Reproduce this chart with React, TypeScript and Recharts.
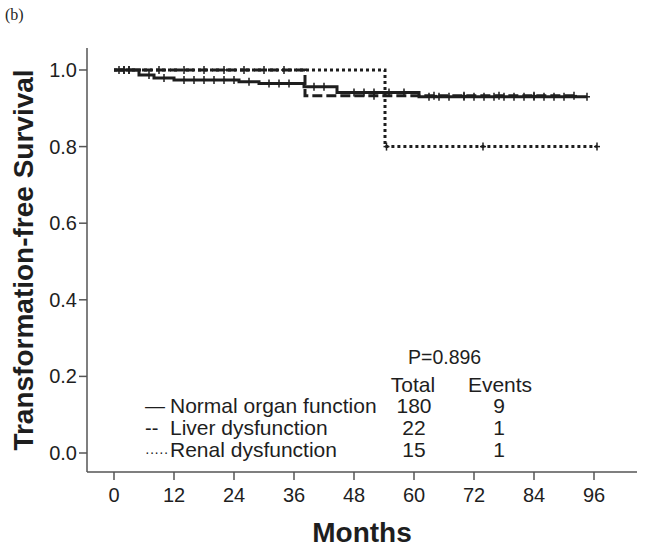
import {
  ComposedChart,
  Line,
  XAxis,
  YAxis,
  Customized,
} from 'recharts';

// month ticks and survival ticks
const MONTH_TICKS = [0, 12, 24, 36, 48, 60, 72, 84, 96];
const SURV_TICKS = [0, 0.2, 0.4, 0.6, 0.8, 1.0];

// [month, survival] at each event step
const normalSteps = [
  [0, 1.0], [5, 0.987], [8, 0.979], [12, 0.974], [25, 0.969],
  [29, 0.965], [38, 0.956], [44.6, 0.941], [61, 0.93],
];
const liverSteps = [[0, 1.0], [38.2, 0.933]];
const renalSteps = [[0, 1.0], [54.2, 0.8]];

// censored months (last one ends the curve)
const normalCensor = [
  1, 2, 3, 7, 10, 14, 16, 18, 20, 22, 24, 27, 31, 33, 35, 40, 42, 48, 50,
  52, 55, 58, 63, 65, 67, 70, 72, 74, 76, 78, 80, 82, 84, 86, 88, 90, 94.6,
];
const liverCensor = [2, 9, 14, 18, 22, 26, 30, 34, 52, 64, 70, 77, 84, 92];
const renalCensor = [3, 54.5, 73.8, 96.6];

const groups = ['Normal organ function', 'Liver dysfunction', 'Renal dysfunction'];
const totals = [180, 22, 15];
const events = [9, 1, 1];
const P_VALUE = 'P=0.896';

const FONT = '"Liberation Sans", Arial, sans-serif';
const INK = '#1e1e1e';
const AXIS = '#555';

const X_DOMAIN = [-5.4, 104.6];
const Y_DOMAIN = [-0.0496, 1.0574];

// merge steps and censor marks into one step-line series
function buildCurve(steps: number[][], censor: number[]) {
  const valueAt = (t: number) => {
    let s = steps[0][1];
    for (const [st, sv] of steps) if (st <= t) s = sv;
    return s;
  };
  const pts = [
    ...steps.map(([t, s]) => ({ t, s, c: false })),
    ...censor.map((t) => ({ t, s: valueAt(t), c: true })),
  ];
  return pts.sort((a, b) => a.t - b.t);
}

const normalData = buildCurve(normalSteps, normalCensor);
const liverData = buildCurve(liverSteps, liverCensor);
const renalData = buildCurve(renalSteps, renalCensor);

const censorMark = (props: any) => {
  const { cx, cy, payload, index } = props;
  if (!payload || !payload.c || cx == null) return <g key={`e-${index}`} />;
  return (
    <g key={`c-${index}`}>
      <line x1={cx} x2={cx} y1={cy - 4} y2={cy + 4} stroke={INK} strokeWidth={1.5} />
      <line x1={cx - 3} x2={cx + 3} y1={cy} y2={cy} stroke={INK} strokeWidth={1.5} />
    </g>
  );
};

function Annotations() {
  const symbols = ['—', '--', '·····'];
  const rowY = [413, 435, 457];
  return (
    <g fontFamily={FONT} fill={INK}>
      <text x={5} y={20} fontFamily='"Liberation Serif", "Times New Roman", serif' fontSize={16}>
        (b)
      </text>
      <text
        x={33}
        y={260}
        transform="rotate(-90 33 260)"
        textAnchor="middle"
        fontSize={28}
        fontWeight="bold"
      >
        Transformation-free Survival
      </text>
      <text x={362} y={542} textAnchor="middle" fontSize={28} fontWeight="bold">
        Months
      </text>
      <text x={408} y={364} fontSize={19.5}>{P_VALUE}</text>
      <text x={413} y={392} textAnchor="middle" fontSize={21}>Total</text>
      <text x={500} y={392} textAnchor="middle" fontSize={21}>Events</text>
      {groups.map((g, i) => (
        <g key={g}>
          <text x={145} y={rowY[i]} fontSize={i === 2 ? 14 : 20}>{symbols[i]}</text>
          <text x={170} y={rowY[i]} fontSize={21}>{g}</text>
          <text x={414} y={rowY[i]} textAnchor="middle" fontSize={21}>{totals[i]}</text>
          <text x={499} y={rowY[i]} textAnchor="middle" fontSize={21}>{events[i]}</text>
        </g>
      ))}
    </g>
  );
}

export default function App() {
  const tickStyle = { fontSize: 20, fill: INK, fontFamily: FONT };
  return (
    <div style={{ position: 'absolute', left: 0, top: 0, width: 645, height: 552, background: '#fff' }}>
      <ComposedChart width={645} height={552} margin={{ top: 48, right: 8, left: 27, bottom: 40 }}>
        <XAxis
          dataKey="t"
          type="number"
          domain={X_DOMAIN}
          ticks={MONTH_TICKS}
          allowDataOverflow
          height={40}
          tick={tickStyle}
          tickSize={8}
          tickMargin={8}
          stroke={AXIS}
          strokeWidth={1.5}
        />
        <XAxis
          xAxisId="top"
          orientation="top"
          type="number"
          domain={X_DOMAIN}
          allowDataOverflow
          height={0}
          tick={false}
          tickLine={false}
          stroke={AXIS}
          strokeWidth={1.5}
        />
        <YAxis
          type="number"
          domain={Y_DOMAIN}
          ticks={SURV_TICKS}
          allowDataOverflow
          width={60}
          tick={tickStyle}
          tickSize={8}
          tickMargin={2}
          tickFormatter={(v: number) => v.toFixed(1)}
          stroke={AXIS}
          strokeWidth={1.5}
        />
        <YAxis
          yAxisId="right"
          orientation="right"
          type="number"
          domain={Y_DOMAIN}
          allowDataOverflow
          width={0}
          tick={false}
          tickLine={false}
          stroke={AXIS}
          strokeWidth={1.5}
        />
        <Line
          data={renalData}
          dataKey="s"
          type="stepAfter"
          stroke={INK}
          strokeWidth={3}
          strokeDasharray="3 3"
          dot={censorMark}
          activeDot={false}
          isAnimationActive={false}
        />
        <Line
          data={liverData}
          dataKey="s"
          type="stepAfter"
          stroke={INK}
          strokeWidth={3}
          strokeDasharray="10 4"
          dot={censorMark}
          activeDot={false}
          isAnimationActive={false}
        />
        <Line
          data={normalData}
          dataKey="s"
          type="stepAfter"
          stroke={INK}
          strokeWidth={3}
          dot={censorMark}
          activeDot={false}
          isAnimationActive={false}
        />
        <Customized component={<Annotations />} />
      </ComposedChart>
    </div>
  );
}
